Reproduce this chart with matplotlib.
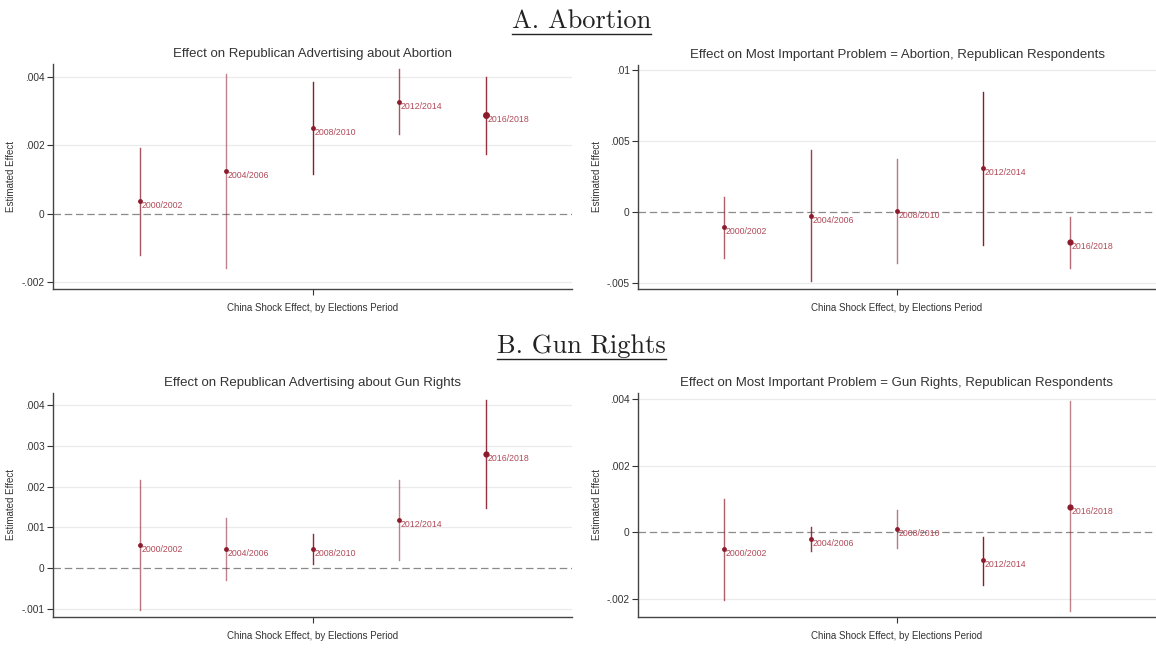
import matplotlib
matplotlib.use("Agg")
import matplotlib.pyplot as plt
from matplotlib.lines import Line2D

plt.rcParams['font.family'] = ['Liberation Sans', 'DejaVu Sans']

# election periods (same for all panels)
periods = ["2000/2002", "2004/2006", "2008/2010", "2012/2014", "2016/2018"]
xpos = [1, 2, 3, 4, 5]

# A. Abortion - advertising
a1_est = [0.00036, 0.00125, 0.00251, 0.00327, 0.00288]
a1_lo = [-0.00120, -0.00160, 0.00116, 0.00232, 0.00176]
a1_hi = [0.00191, 0.00410, 0.00385, 0.00422, 0.00400]
a1_alpha = [0.75, 0.55, 1.0, 0.75, 0.9]
a1_size = [3.5, 3.5, 3.5, 3.5, 5.0]

# A. Abortion - most important problem
a2_est = [-0.00107, -0.00024, 0.00007, 0.00310, -0.00211]
a2_lo = [-0.00325, -0.00481, -0.00358, -0.00230, -0.00393]
a2_hi = [0.00109, 0.00434, 0.00372, 0.00846, -0.00031]
a2_alpha = [0.7, 0.85, 0.6, 1.0, 0.65]
a2_size = [3.5, 3.5, 3.5, 3.5, 4.5]

# B. Gun rights - advertising
b1_est = [0.00056, 0.00046, 0.00046, 0.00118, 0.00281]
b1_lo = [-0.00104, -0.00030, 0.00010, 0.00020, 0.00148]
b1_hi = [0.00216, 0.00122, 0.00083, 0.00216, 0.00414]
b1_alpha = [0.6, 0.55, 0.95, 0.55, 0.9]
b1_size = [3.5, 3.5, 3.5, 3.5, 4.5]

# B. Gun rights - most important problem
b2_est = [-0.00050, -0.00019, 0.00009, -0.00084, 0.00077]
b2_lo = [-0.00202, -0.00055, -0.00048, -0.00159, -0.00236]
b2_hi = [0.00100, 0.00016, 0.00066, -0.00013, 0.00393]
b2_alpha = [0.7, 0.9, 0.6, 1.0, 0.55]
b2_size = [3.5, 3.5, 3.5, 3.5, 4.5]

titles = ["Effect on Republican Advertising about Abortion",
          "Effect on Most Important Problem = Abortion, Republican Respondents",
          "Effect on Republican Advertising about Gun Rights",
          "Effect on Most Important Problem = Gun Rights, Republican Respondents"]

a1_ticks = [-0.002, 0, 0.002, 0.004]
a1_labels = ["-.002", "0", ".002", ".004"]
a2_ticks = [-0.005, 0, 0.005, 0.01]
a2_labels = ["-.005", "0", ".005", ".01"]
b1_ticks = [-0.001, 0, 0.001, 0.002, 0.003, 0.004]
b1_labels = ["-.001", "0", ".001", ".002", ".003", ".004"]
b2_ticks = [-0.002, 0, 0.002, 0.004]
b2_labels = ["-.002", "0", ".002", ".004"]

dark = "#8c1c2b"
lab_col = "#b04a58"

fig = plt.figure(figsize=(11.56, 6.48), dpi=100)

W, H = 1156.0, 648.0
def box(l, t, r, b):
    return [l / W, 1 - b / H, (r - l) / W, (b - t) / H]

panels = [
    (box(53, 64, 572, 289), a1_est, a1_lo, a1_hi, a1_alpha, a1_size, a1_ticks, a1_labels, (-0.0022, 0.00438), -0.071),
    (box(638, 65, 1156, 289), a2_est, a2_lo, a2_hi, a2_alpha, a2_size, a2_ticks, a2_labels, (-0.0054, 0.01035), -0.07),
    (box(53, 393, 572, 617), b1_est, b1_lo, b1_hi, b1_alpha, b1_size, b1_ticks, b1_labels, (-0.0012, 0.0043), -0.071),
    (box(638, 393, 1156, 617), b2_est, b2_lo, b2_hi, b2_alpha, b2_size, b2_ticks, b2_labels, (-0.00254, 0.00418), -0.07),
]

for k, (pos, est, lo, hi, al, sz, ticks, tlabels, ylim, ylx) in enumerate(panels):
    ax = fig.add_axes(pos)
    for t in ticks:
        if t != 0:
            ax.axhline(t, color="#ebebeb", lw=0.9, zorder=0)
    ax.axhline(0, color="#8a8a8a", lw=0.9, ls=(0, (6, 3)), zorder=1)
    for i in range(len(xpos)):
        ax.plot([xpos[i], xpos[i]], [lo[i], hi[i]], color=dark, alpha=al[i], lw=1.0, zorder=2)
        ax.plot(xpos[i], est[i], "o", color=dark, ms=sz[i], mew=0, zorder=3)
        ax.text(xpos[i] + 0.02, est[i], periods[i], color=lab_col, fontsize=6.3,
                va="top", ha="left")
    ax.set_xlim(0, 6)
    ax.set_ylim(ylim)
    ax.set_yticks(ticks)
    ax.set_yticklabels(tlabels, fontsize=7.3, color="#333333")
    ax.set_xticks([3])
    ax.set_xticklabels([])
    ax.tick_params(axis="both", length=4, width=0.8, color="#333333", pad=2)
    for s in ["top", "right"]:
        ax.spines[s].set_visible(False)
    for s in ["left", "bottom"]:
        ax.spines[s].set_color("#444444")
        ax.spines[s].set_linewidth(1.0)
    ax.set_ylabel("Estimated Effect", fontsize=7, color="#333333")
    ax.yaxis.set_label_coords(ylx, 0.5)
    ax.set_xlabel("China Shock Effect, by Elections Period", fontsize=7, color="#333333", labelpad=4)
    ax.set_title(titles[k], fontsize=9.5, color="#333333", pad=5)

# section headers, underlined
headers = [("A. Abortion", 1 - 21 / H), ("B. Gun Rights", 1 - 346 / H)]
fig.canvas.draw()
for txt, y in headers:
    t = fig.text(0.503, y, txt, fontfamily="cmr10", fontsize=19, ha="center", va="center", color="#222222")
    fig.canvas.draw()
    bb = t.get_window_extent()
    uy = bb.y0 - 1
    fig.add_artist(Line2D([bb.x0 / W, bb.x1 / W], [uy / H, uy / H], color="#222222", lw=1.0))

fig.savefig("out.png", dpi=100)
